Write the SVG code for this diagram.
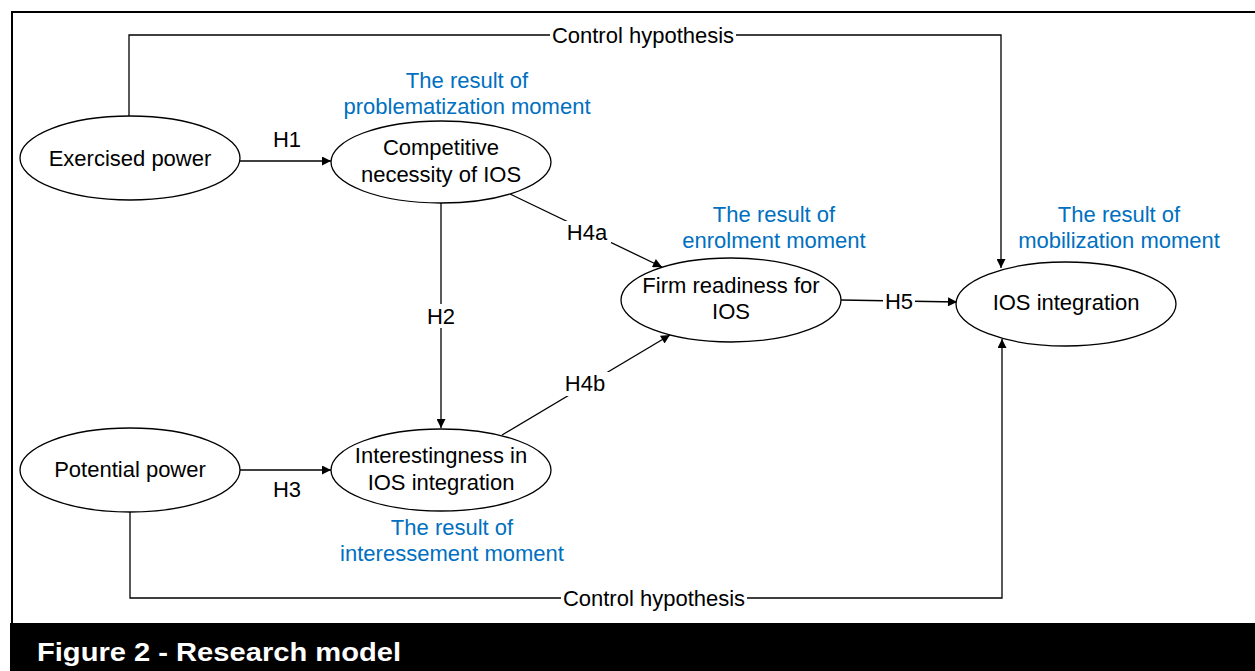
<svg xmlns="http://www.w3.org/2000/svg" width="1255" height="671" viewBox="0 0 1255 671">
<style>
.node ellipse{fill:#fff;stroke:#000;stroke-width:1.3}
.t{font-family:"Liberation Sans",Arial,sans-serif;font-size:22px;fill:#000;text-anchor:middle}
.b{font-family:"Liberation Sans",Arial,sans-serif;font-size:22px;fill:#0070C0;text-anchor:middle}
.ln{fill:none;stroke:#000;stroke-width:1.3}
.lab{fill:#fff}
</style>
<defs>
<marker id="arr" viewBox="0 0 10 10" refX="10" refY="5" markerWidth="10" markerHeight="9" markerUnits="userSpaceOnUse" orient="auto">
<path d="M0,0 L10,5 L0,10 z" fill="#000"/>
</marker>
</defs>
<rect x="0" y="0" width="1255" height="671" fill="#fff"/>
<rect x="12" y="12" width="1260" height="640" fill="none" stroke="#000" stroke-width="2"/>
<rect x="10" y="623" width="1245" height="48" fill="#000"/>
<text x="37" y="661" font-family="Liberation Sans,Arial,sans-serif" font-size="26" font-weight="bold" fill="#fff" textLength="364" lengthAdjust="spacingAndGlyphs">Figure 2 - Research model</text>

<g id="connectors">
<path class="ln" d="M129,116 V35 H1001 V268" marker-end="url(#arr)"/>
<path class="ln" d="M130,512 V598 H1002 V339" marker-end="url(#arr)"/>
<path class="ln" d="M239,161 H331" marker-end="url(#arr)"/>
<path class="ln" d="M240,470 H331" marker-end="url(#arr)"/>
<path class="ln" d="M441,203 V428" marker-end="url(#arr)"/>
<path class="ln" d="M510,194 L662,267" marker-end="url(#arr)"/>
<path class="ln" d="M502,435 L670,335" marker-end="url(#arr)"/>
<path class="ln" d="M841,300 L957,302" marker-end="url(#arr)"/>
<rect class="lab" x="550" y="24" width="186" height="22"/>
<text class="t" x="643" y="43">Control hypothesis</text>
<rect class="lab" x="561" y="587" width="186" height="22"/>
<text class="t" x="654" y="606">Control hypothesis</text>
<text class="t" x="287" y="147">H1</text>
<rect class="lab" x="424" y="304" width="34" height="24"/>
<text class="t" x="441" y="324">H2</text>
<text class="t" x="287" y="497">H3</text>
<rect class="lab" x="563" y="221" width="48" height="24"/>
<text class="t" x="587" y="240">H4a</text>
<rect class="lab" x="561" y="372" width="48" height="24"/>
<text class="t" x="585" y="391">H4b</text>
<rect class="lab" x="883" y="290" width="32" height="24"/>
<text class="t" x="899" y="309">H5</text>
</g>

<g id="exercised-power" class="node">
<ellipse cx="130" cy="158" rx="110" ry="42"/>
<text class="t" x="130" y="166">Exercised power</text>
</g>
<g id="competitive-necessity" class="node">
<ellipse cx="441" cy="162" rx="110" ry="41"/>
<text class="t" x="441" y="155">Competitive</text>
<text class="t" x="441" y="182">necessity of IOS</text>
</g>
<g id="firm-readiness" class="node">
<ellipse cx="731" cy="300" rx="110" ry="42"/>
<text class="t" x="731" y="293">Firm readiness for</text>
<text class="t" x="731" y="319">IOS</text>
</g>
<g id="ios-integration" class="node">
<ellipse cx="1066" cy="304" rx="110" ry="42"/>
<text class="t" x="1066" y="310">IOS integration</text>
</g>
<g id="potential-power" class="node">
<ellipse cx="130" cy="470" rx="110" ry="42"/>
<text class="t" x="130" y="477">Potential power</text>
</g>
<g id="interestingness" class="node">
<ellipse cx="441" cy="470" rx="110" ry="41"/>
<text class="t" x="441" y="463">Interestingness in</text>
<text class="t" x="441" y="490">IOS integration</text>
</g>

<g id="annotations">
<text class="b" x="467" y="88">The result of</text>
<text class="b" x="467" y="114">problematization moment</text>
<text class="b" x="774" y="222">The result of</text>
<text class="b" x="774" y="248">enrolment moment</text>
<text class="b" x="1119" y="222">The result of</text>
<text class="b" x="1119" y="248">mobilization moment</text>
<text class="b" x="452" y="535">The result of</text>
<text class="b" x="452" y="561">interessement moment</text>
</g>
</svg>
